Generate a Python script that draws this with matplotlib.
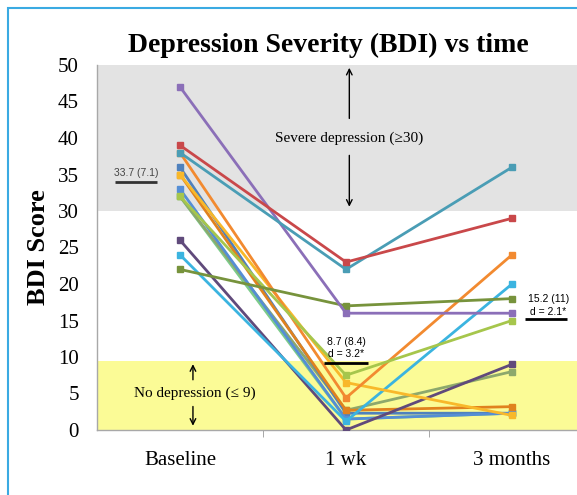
import matplotlib
matplotlib.use("Agg")
import matplotlib.pyplot as plt
from matplotlib.patches import Rectangle

categories = ["Baseline", "1 wk", "3 months"]

# each series: (baseline, 1 wk, 3 months)
s_blue = [36, 2.3, 2.3]
s_steel = [33, 1.5, 2.3]
s_lightgreen = [32, 1.5, 2.3]
s_graygreen = [32, 2.7, 8]
s_darkorange = [35, 2.7, 3.2]
s_darkpurple = [26, 0, 9]
s_cyan = [24, 1.2, 20]
s_gold = [35, 6.5, 2]
s_orange = [38, 4.4, 24]
s_yellowgreen = [32, 7.5, 15]
s_olive = [22, 17, 18]
s_lavender = [47, 16, 16]
s_teal = [38, 22, 36]
s_red = [39, 23, 29]

series = [
    (s_lightgreen, "#7CCB8A"),
    (s_graygreen, "#8DA86C"),
    (s_blue, "#4F81BD"),
    (s_steel, "#558ED5"),
    (s_darkorange, "#E0821E"),
    (s_darkpurple, "#604A7B"),
    (s_cyan, "#3BB4E0"),
    (s_gold, "#F8B82A"),
    (s_orange, "#F28A30"),
    (s_yellowgreen, "#A6C64C"),
    (s_olive, "#77933C"),
    (s_lavender, "#8B6FB8"),
    (s_teal, "#4A9DB5"),
    (s_red, "#C9484A"),
]

yticks = [0, 5, 10, 15, 20, 25, 30, 35, 40, 45, 50]

W, H = 577, 495
fig = plt.figure(figsize=(W / 100, H / 100), dpi=100)

# light blue frame
fig.patches.append(Rectangle((8 / W, -0.1), 1.2, (H - 8) / H + 0.1, transform=fig.transFigure,
                             fill=False, edgecolor="#3AAAE2", lw=1.5))

ax = fig.add_axes([97 / W, 65 / H, 498 / W, 365 / H])
ax.set_xlim(-0.5, 2.5)
ax.set_ylim(0, 50)

ax.axhspan(30, 50, color="#E3E3E3", zorder=0, lw=0)
ax.axhspan(0, 9.4, color="#FBFB96", zorder=0, lw=0)

x = list(range(len(categories)))
for vals, col in series:
    ax.plot(x, vals, color=col, lw=2.0, marker="s", markersize=5,
            markeredgecolor=col, markerfacecolor=col, zorder=3)

serif = ["Liberation Serif", "DejaVu Serif"]
sans = ["Liberation Sans", "DejaVu Sans"]

ax.set_xticks(x)
ax.set_xticklabels(categories, family=serif, fontsize=15)
ax.set_xticks([0.5, 1.5], minor=True)
ax.tick_params(axis="x", which="major", length=0, pad=15)
ax.tick_params(axis="x", which="minor", length=5, color="#999999", direction="out")
ax.set_yticks(yticks)
ax.set_yticklabels([str(t) for t in yticks], family=serif, fontsize=15)
ax.tick_params(axis="y", length=0, pad=13)

for s in ["top", "right"]:
    ax.spines[s].set_visible(False)
for s in ["left", "bottom"]:
    ax.spines[s].set_color("#A8A8A8")
    ax.spines[s].set_linewidth(1.0)

ax.set_ylabel("BDI Score", family=serif, fontsize=19, fontweight="bold", labelpad=6)
fig.text(328 / W, 1 - 45 / H, "Depression Severity (BDI) vs time", family=serif,
         fontsize=20, fontweight="bold", ha="center", va="center")

# Severe depression annotation
ax.text(1.02, 40, "Severe depression (\u226530)", family=serif, fontsize=11,
        ha="center", va="center", zorder=5)
ax.annotate("", xy=(1.02, 50), xytext=(1.02, 42.3),
            arrowprops=dict(arrowstyle="->", lw=1.0, color="black"), zorder=5)
ax.annotate("", xy=(1.02, 30.2), xytext=(1.02, 38.0),
            arrowprops=dict(arrowstyle="->", lw=1.0, color="black"), zorder=5)

# No depression annotation
ax.text(0.09, 5, "No depression (\u2264 9)", family=serif, fontsize=11,
        ha="center", va="center", zorder=5)
ax.annotate("", xy=(0.078, 9.4), xytext=(0.078, 6.5),
            arrowprops=dict(arrowstyle="->", lw=1.0, color="black"), zorder=5)
ax.annotate("", xy=(0.078, 0.2), xytext=(0.078, 3.6),
            arrowprops=dict(arrowstyle="->", lw=1.0, color="black"), zorder=5)

# mean (SD) labels
ax.text(-0.265, 35.2, "33.7 (7.1)", family=sans, fontsize=7.5, ha="center", va="center",
        color="#444444", zorder=5)
ax.plot([-0.39, -0.14], [34.0, 34.0], color="#333333", lw=2.0, zorder=5, solid_capstyle="butt")

ax.text(1.0, 9.7, "8.7 (8.4)\nd = 3.2*", family=sans, fontsize=7.5, ha="center", va="bottom",
        linespacing=1.3, zorder=5)
ax.plot([0.87, 1.13], [9.2, 9.2], color="black", lw=2.0, zorder=6, solid_capstyle="butt")

ax.text(2.22, 15.5, "15.2 (11)\nd = 2.1*", family=sans, fontsize=7.5, ha="center", va="bottom",
        linespacing=1.3, zorder=5)
ax.plot([2.08, 2.33], [15.2, 15.2], color="black", lw=2.0, zorder=6, solid_capstyle="butt")

fig.savefig("out.png", dpi=100)
